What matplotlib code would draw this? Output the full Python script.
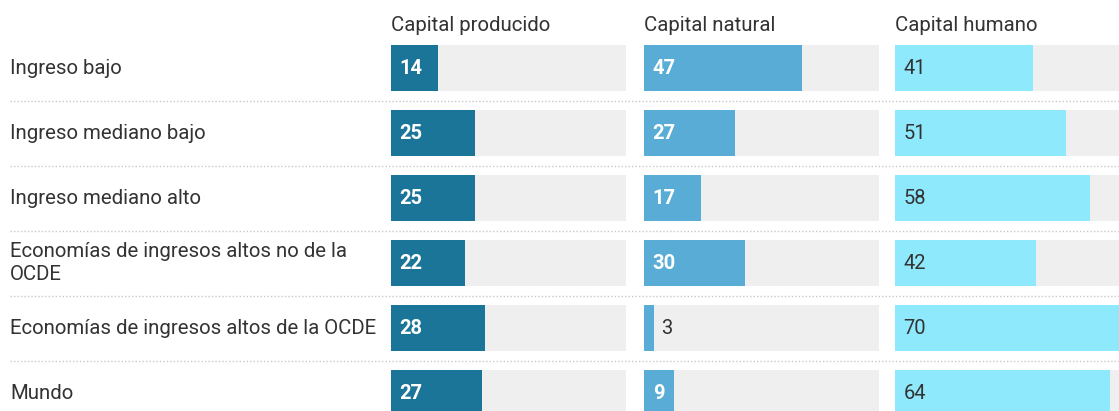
import matplotlib.pyplot as plt

plt.rcParams['font.family'] = ['Roboto', 'DejaVu Sans']

# Datos
grupos = ['Ingreso bajo', 'Ingreso mediano bajo', 'Ingreso mediano alto',
          'Economías de ingresos altos no de la\nOCDE',
          'Economías de ingresos altos de la OCDE', 'Mundo']
capitales = ['Capital producido', 'Capital natural', 'Capital humano']
producido = [14, 25, 25, 22, 28, 27]
natural = [47, 27, 17, 30, 3, 9]
humano = [41, 51, 58, 42, 70, 64]

colores = ['#1b7598', '#58acd5', '#8fe9fd']
color_texto = ['white', 'white', '#333333']
fondo = '#efefef'

W, H = 1119, 411
fig = plt.figure(figsize=(W / 100, H / 100), dpi=100)

# filas: centro de la fila i en y = 68 + 65*i px
fila0, paso = 68, 65
n = len(grupos)
top = 1 - (fila0 - paso / 2) / H
alto = paso * n / H
bottom = top - alto

# eje de fondo para etiquetas y separadores
ax0 = fig.add_axes([0, bottom, 1, alto])
ax0.set_xlim(0, W)
ax0.set_ylim(n - 0.5, -0.5)
ax0.axis('off')
for i, g in enumerate(grupos):
    ax0.text(10, i, g, va='center', ha='left', fontsize=14.7, color='#333333',
             linespacing=1.25)
for i in range(n - 1):
    ax0.plot([10, W], [i + 0.5, i + 0.5], color='#c8c8c8', lw=1,
             linestyle=(0, (1, 1.5)))

xmax = 70
ancho = 235
lefts = [391, 644, 895]
series = [producido, natural, humano]
for k in range(3):
    ax = fig.add_axes([lefts[k] / W, bottom, ancho / W, alto])
    ax.set_xlim(0, xmax)
    ax.set_ylim(n - 0.5, -0.5)
    ax.axis('off')
    y = range(n)
    ax.barh(y, [xmax] * n, height=0.7, color=fondo, left=0)
    ax.barh(y, series[k], height=0.7, color=colores[k])
    for i, v in enumerate(series[k]):
        if v < 5:
            ax.text(v + 2.1, i, str(v), va='center', ha='left', fontsize=14.5,
                    color='#333333')
        else:
            ax.text(2.6, i, str(v), va='center', ha='left', fontsize=14.5,
                    color=color_texto[k],
                    fontweight='bold' if k < 2 else 'normal')
    ax.text(0, -0.66, capitales[k], va='center', ha='left', fontsize=14.7,
            color='#333333', clip_on=False)

fig.savefig('out.png', dpi=100)
